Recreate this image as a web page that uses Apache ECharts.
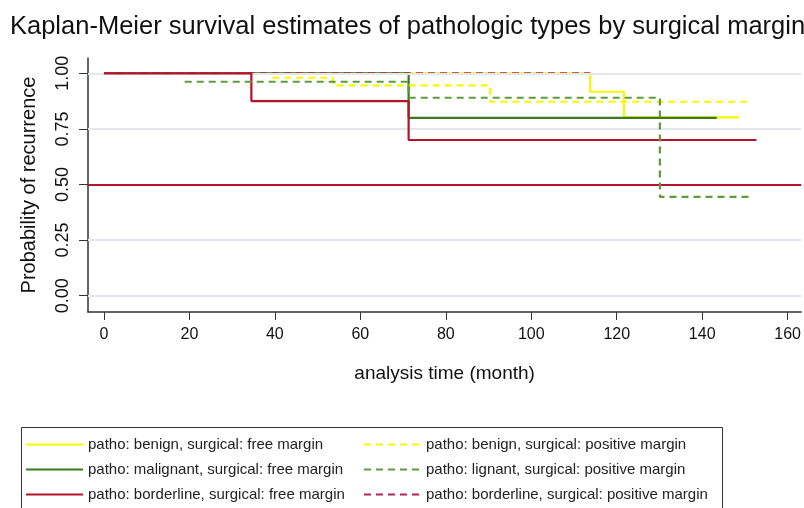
<!DOCTYPE html>
<html>
<head>
<meta charset="utf-8">
<script src="https://cdn.jsdelivr.net/npm/echarts@6/dist/echarts.min.js"></script>
<style>html,body{margin:0;padding:0;background:#fff}#c{width:804px;height:508px}</style>
</head>
<body>
<div id="c"></div>
<script>
// Kaplan-Meier step data: [month, survival probability]
const benignFree      = [[0,1],[113.8,0.917],[121.7,0.802],[148.6,0.802]];
const malignantFree   = [[0,1],[71.3,0.80],[143.4,0.80]];
const borderlineFree  = [[0,1],[34.5,0.875],[71.3,0.70],[152.7,0.70]];
const benignPos       = [[39.4,0.98],[53.6,0.946],[90.4,0.872],[150.6,0.872]];
const malignantPos    = [[18.9,0.962],[71.3,0.89],[130.1,0.444],[152,0.444]];
const borderlinePos   = [[0,1],[113.8,1]];
const referenceLine   = 0.5;

const xTicks = [0,20,40,60,80,100,120,140,160];
const yTicks = [0,0.25,0.5,0.75,1];

const names = [
  'patho: benign, surgical: free margin',
  'patho: malignant, surgical: free margin',
  'patho: borderline, surgical: free margin',
  'patho: benign, surgical: positive margin',
  'patho: lignant, surgical: positive margin',
  'patho: borderline, surgical: positive margin'
];

const YEL = '#f7f700', GRN = '#3a7a1c', GRN2 = '#5f9a3c', RED = '#b3142c', RED2 = '#b0245a';
const narrow = "'Liberation Sans Narrow','Arial Narrow','Liberation Sans',Arial,sans-serif";
const sans = "'Liberation Sans',Arial,sans-serif";

function km(name, data, color, dashed, z) {
  return {
    name: name, type: 'line', step: 'end', data: data,
    symbol: 'none', showSymbol: false, z: z, silent: true,
    lineStyle: {color: color, width: 2.2, type: dashed ? [7,5] : 'solid'},
    itemStyle: {color: color}
  };
}

const series = [
  {
    name: 'grid', type: 'line', data: [], z: 1, silent: true,
    markLine: {
      silent: true, symbol: 'none', label: {show: false},
      lineStyle: {color: '#e2e8ee', width: 2, type: 'solid'},
      data: yTicks.map(v => ({yAxis: v}))
    }
  },
  km(names[0], benignFree, YEL, false, 2),
  km(names[1], malignantFree, GRN, false, 3),
  km(names[2], borderlineFree, RED, false, 5),
  km(names[3], benignPos, YEL, true, 6),
  km(names[4], malignantPos, GRN2, true, 7),
  km(names[5], borderlinePos, RED2, true, 4)
];
series[3].markLine = {
  silent: true, symbol: 'none', label: {show: false},
  lineStyle: {color: RED, width: 2.2, type: 'solid'},
  data: [{yAxis: referenceLine}]
};

const legendCommon = {
  orient: 'vertical', top: 432,
  itemWidth: 57, itemHeight: 14, itemGap: 10, selectedMode: false,
  itemStyle: {color: 'rgba(0,0,0,0)', borderWidth: 0, opacity: 0},
  textStyle: {fontFamily: sans, fontSize: 15, color: '#222'}
};

const chart = echarts.init(document.getElementById('c'), null, {renderer: 'canvas'});
chart.setOption({
  animation: false,
  backgroundColor: '#ffffff',
  title: {
    text: 'Kaplan-Meier survival estimates of pathologic types by surgical margin',
    left: 5, top: 9,
    textStyle: {fontFamily: sans, fontSize: 25.5, fontWeight: 'normal', color: '#111'}
  },
  grid: {left: 88, top: 58, right: 0, bottom: 196, containLabel: false},
  xAxis: {
    type: 'value', min: -3.73, max: 163.17,
    name: 'analysis time (month)', nameLocation: 'middle', nameGap: 52,
    nameTextStyle: {fontFamily: narrow, fontSize: 19, color: '#111'},
    axisLine: {show: true, onZero: false, lineStyle: {color: '#333', width: 1.5}},
    axisTick: {show: true, length: 8, customValues: xTicks, lineStyle: {color: '#333'}},
    axisLabel: {customValues: xTicks, margin: 15, fontFamily: narrow, fontSize: 16, color: '#111'},
    splitLine: {show: false}
  },
  yAxis: {
    type: 'value', min: -0.0733, max: 1.0688,
    name: 'Probability of recurrence', nameLocation: 'middle', nameGap: 49, nameRotate: 90,
    nameTextStyle: {fontFamily: sans, fontSize: 20, color: '#111'},
    axisLine: {show: true, onZero: false, lineStyle: {color: '#333', width: 1.5}},
    axisTick: {show: true, length: 9, customValues: yTicks, lineStyle: {color: '#333'}},
    axisLabel: {customValues: yTicks, rotate: 90, margin: 16, fontFamily: sans, fontSize: 18, color: '#111',
      formatter: v => v.toFixed(2)},
    splitLine: {show: false}
  },
  legend: [
    Object.assign({data: names.slice(0,3), left: 20}, legendCommon),
    Object.assign({data: names.slice(3), left: 358}, legendCommon)
  ],
  graphic: [{
    type: 'rect', left: 19, top: 425, silent: true,
    shape: {width: 701, height: 100},
    style: {fill: 'none', stroke: '#333', lineWidth: 1}
  }],
  series: series
});
</script>
</body>
</html>
